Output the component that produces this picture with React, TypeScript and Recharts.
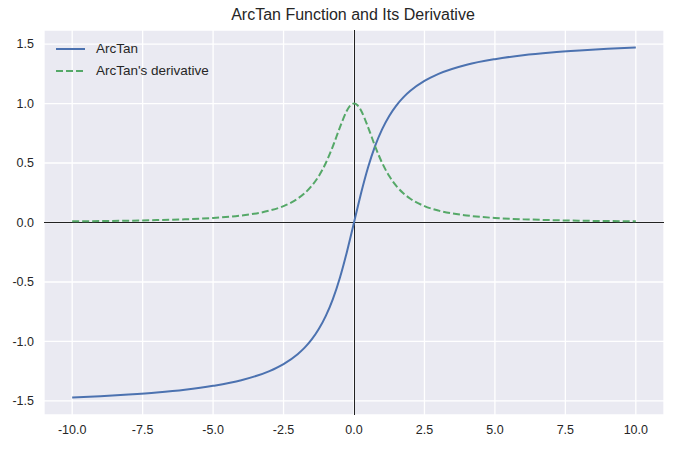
import React from 'react';
import { LineChart, Line, XAxis, YAxis, CartesianGrid, ReferenceLine } from 'recharts';

const xValues = [-10, -9, -8, -7, -6, -5, -4, -3, -2.5, -2, -1.75, -1.5, -1.25, -1, -0.75, -0.5, -0.25, -0.125, 0, 0.125, 0.25, 0.5, 0.75, 1, 1.25, 1.5, 1.75, 2, 2.5, 3, 4, 5, 6, 7, 8, 9, 10];
const arctanValues = [-1.471, -1.460, -1.446, -1.429, -1.406, -1.373, -1.326, -1.249, -1.190, -1.107, -1.052, -0.983, -0.896, -0.785, -0.644, -0.464, -0.245, -0.124, 0, 0.124, 0.245, 0.464, 0.644, 0.785, 0.896, 0.983, 1.052, 1.107, 1.190, 1.249, 1.326, 1.373, 1.406, 1.429, 1.446, 1.460, 1.471];
const derivativeValues = [0.010, 0.012, 0.015, 0.020, 0.027, 0.038, 0.059, 0.100, 0.138, 0.200, 0.246, 0.308, 0.390, 0.500, 0.640, 0.800, 0.941, 0.985, 1.000, 0.985, 0.941, 0.800, 0.640, 0.500, 0.390, 0.308, 0.246, 0.200, 0.138, 0.100, 0.059, 0.038, 0.027, 0.020, 0.015, 0.012, 0.010];
const xTicks = [-10, -7.5, -5, -2.5, 0, 2.5, 5, 7.5, 10];
const yTicks = [-1.5, -1, -0.5, 0, 0.5, 1, 1.5];
const seriesNames = ['ArcTan', "ArcTan's derivative"];
const titleText = 'ArcTan Function and Its Derivative';

const data = xValues.map((x, i) => ({ x, arctan: arctanValues[i], deriv: derivativeValues[i] }));

const FONT = '"Liberation Sans", Arial, sans-serif';
const BLUE = '#4C72B0';
const GREEN = '#55A868';

export default function App() {
  return (
    <div style={{ position: 'absolute', left: 0, top: 0, width: 673, height: 449, background: '#fff', fontFamily: FONT }}>
      <div style={{ position: 'absolute', left: 44, width: 618, top: 5, textAlign: 'center', fontSize: 16, color: '#262626', lineHeight: '20px' }}>
        {titleText}
      </div>
      <LineChart width={673} height={449} data={data} margin={{ top: 30, right: 9, bottom: 0, left: 0 }}>
        <CartesianGrid fill="#EAEAF2" stroke="#ffffff" strokeWidth={1.3} />
        <XAxis
          dataKey="x"
          type="number"
          domain={[-11, 11]}
          ticks={xTicks}
          tickFormatter={(v: number) => v.toFixed(1)}
          axisLine={false}
          tickLine={false}
          tickSize={0}
          tickMargin={10}
          height={34}
          tick={{ fill: '#262626', fontSize: 12.5, fontFamily: FONT }}
          allowDataOverflow
        />
        <YAxis
          type="number"
          domain={[-1.618, 1.618]}
          ticks={yTicks}
          tickFormatter={(v: number) => v.toFixed(1)}
          axisLine={false}
          tickLine={false}
          tickSize={0}
          tickMargin={10}
          width={44}
          tick={{ fill: '#262626', fontSize: 12.5, fontFamily: FONT }}
          allowDataOverflow
        />
        <ReferenceLine x={0} stroke="#222" strokeWidth={1} shapeRendering="crispEdges" />
        <ReferenceLine y={0} stroke="#222" strokeWidth={1} shapeRendering="crispEdges" />
        <Line type="monotone" dataKey="arctan" stroke={BLUE} strokeWidth={2} dot={false} isAnimationActive={false} />
        <Line type="monotone" dataKey="deriv" stroke={GREEN} strokeWidth={2} strokeDasharray="7 3" dot={false} isAnimationActive={false} />
      </LineChart>
      <div style={{ position: 'absolute', left: 52, top: 38, fontSize: 13.5, color: '#262626', lineHeight: '22px' }}>
        <div style={{ display: 'flex', alignItems: 'center' }}>
          <svg width={40} height={10} style={{ marginLeft: 3 }}>
            <line x1={1} x2={30} y1={5} y2={5} stroke={BLUE} strokeWidth={2} />
          </svg>
          <span style={{ marginLeft: 1 }}>{seriesNames[0]}</span>
        </div>
        <div style={{ display: 'flex', alignItems: 'center' }}>
          <svg width={40} height={10} style={{ marginLeft: 3 }}>
            <line x1={1} x2={30} y1={5} y2={5} stroke={GREEN} strokeWidth={2} strokeDasharray="7 3" />
          </svg>
          <span style={{ marginLeft: 1 }}>{seriesNames[1]}</span>
        </div>
      </div>
    </div>
  );
}
